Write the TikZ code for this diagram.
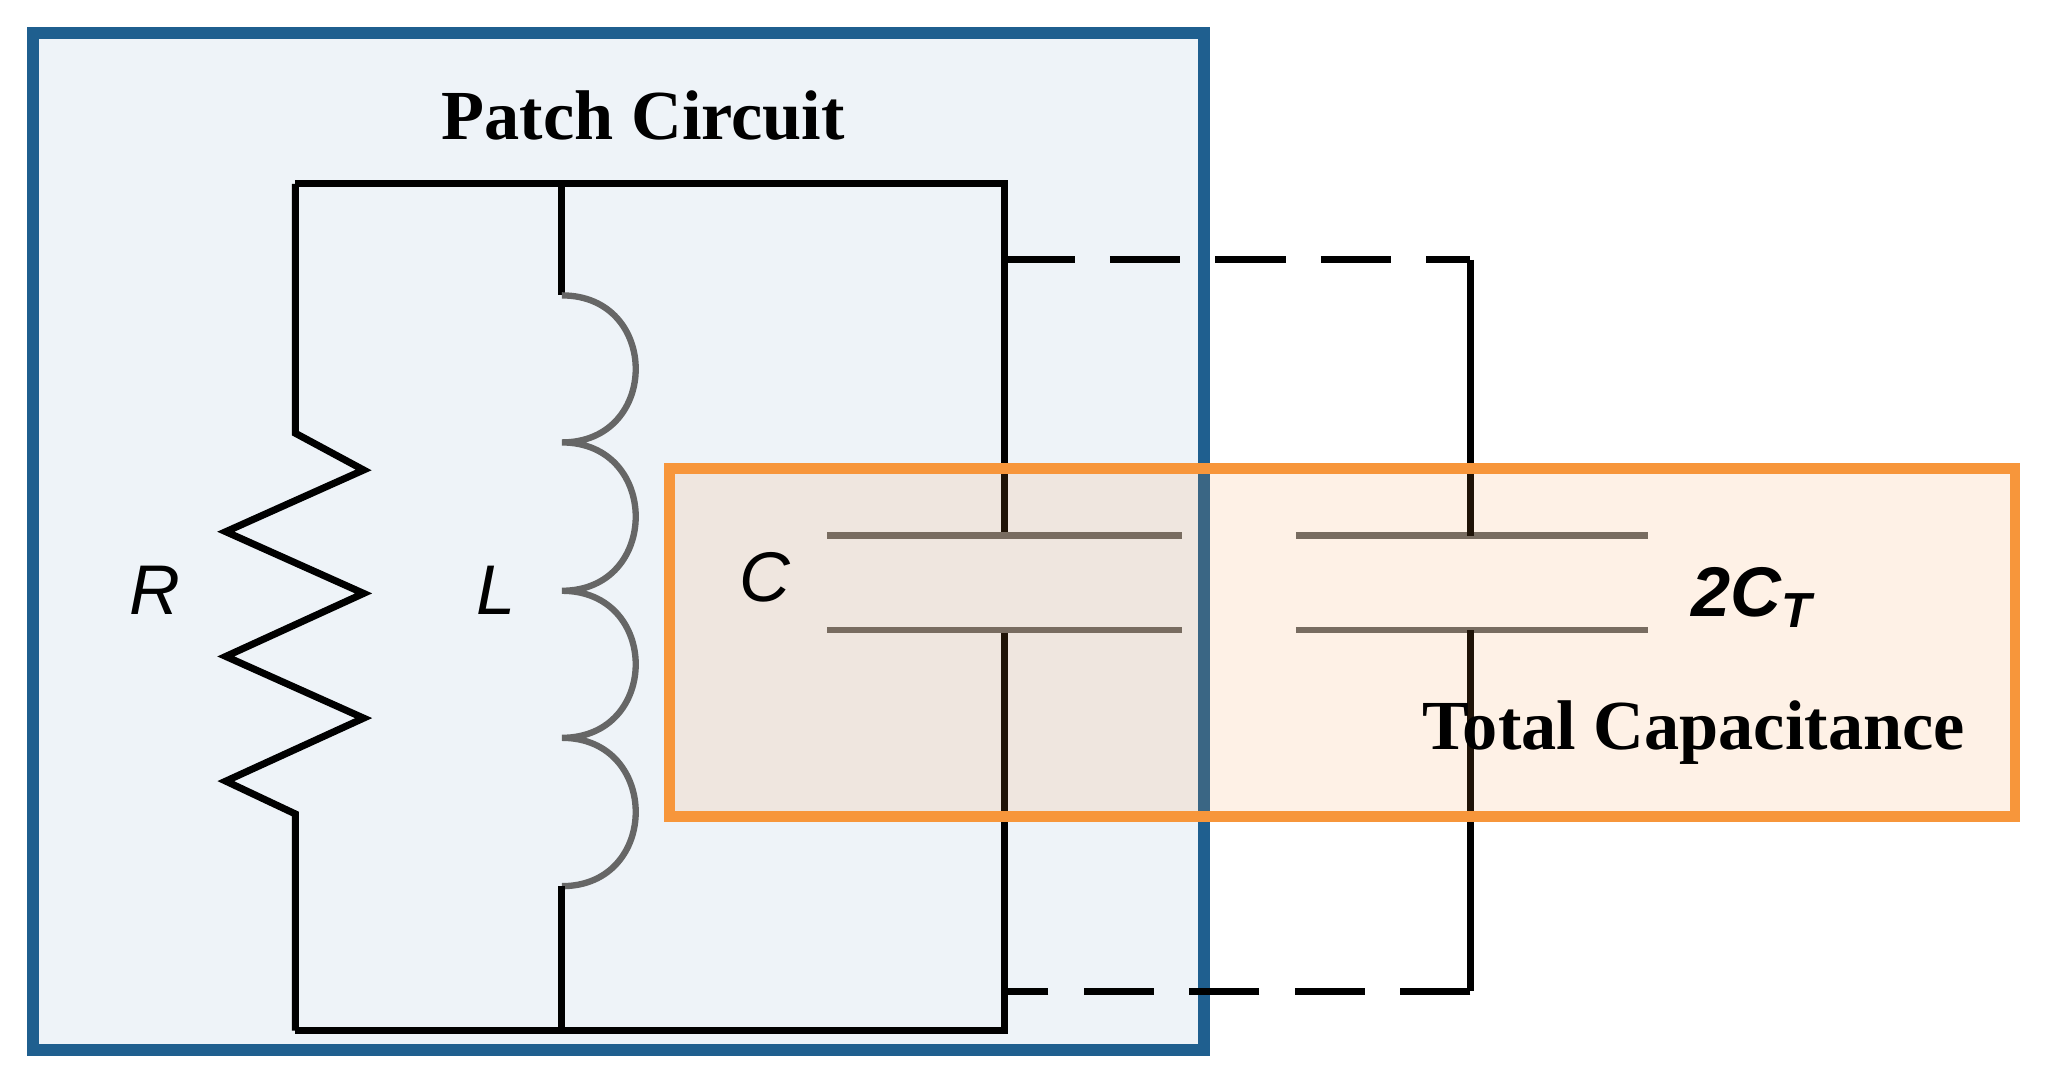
\documentclass[tikz,border=0pt]{standalone}
\usepackage{fontspec}
\setmainfont{Liberation Serif}
\newfontfamily\arialf{Liberation Sans}
\definecolor{patchblue}{HTML}{1F5F8F}
\definecolor{patchfill}{HTML}{EEF3F8}
\definecolor{capor}{HTML}{F7963B}
\begin{document}
\begin{tikzpicture}[x=0.01313cm, y=-0.01313cm,
  wire/.style={line width=2pt, black},
  plate/.style={line width=1.8pt, gray!80!black},
  dashwire/.style={wire, dash pattern=on 20pt off 10pt},
  lbl/.style={font=\arialf\itshape\fontsize{20}{22}\selectfont},
  ttl/.style={font=\bfseries\fontsize{20}{22}\selectfont}]
\useasboundingbox (0,0) rectangle (1560,820);
% boxes
\draw[patchblue, line width=3.5pt, fill=patchfill] (25,25) rectangle (917,800);
% nodes of the circuit
\coordinate (tl) at (225,140); \coordinate (tr) at (765,140);
\coordinate (bl) at (225,785); \coordinate (br) at (765,785);
\coordinate (lt) at (428,140); \coordinate (lb) at (428,785);
\coordinate (ct) at (765,408); \coordinate (cb) at (765,480);
\coordinate (dt) at (765,198); \coordinate (db) at (765,755);
\coordinate (et) at (1120,198); \coordinate (eb) at (1120,755);
\coordinate (ft) at (1120,408); \coordinate (fb) at (1120,480);
\draw[wire] (tl) -- (tr) -- (ct);
\draw[wire] (cb) -- (br) -- (bl);
% resistor
\draw[wire] (tl) -- (225,330) -- (277,358) -- (172,405) -- (277,452) -- (172,500)
  -- (277,547) -- (172,595) -- (225,620) -- (bl);
% inductor
\draw[wire] (lt) -- (428,225);
\draw[plate] (428,225) .. controls (503,225) and (503,337) .. (428,337)
  .. controls (503,337) and (503,450) .. (428,450)
  .. controls (503,450) and (503,562) .. (428,562)
  .. controls (503,562) and (503,675) .. (428,675);
\draw[wire] (428,675) -- (lb);
% capacitor plates
\draw[plate] (630,408) -- (900,408);
\draw[plate] (630,480) -- (900,480);
\draw[plate] (987,408) -- (1255,408);
\draw[plate] (987,480) -- (1255,480);
% total capacitance branch
\draw[dashwire] (dt) -- (et);
\draw[wire] (et) -- (ft);
\draw[wire] (fb) -- (eb);
\draw[dashwire] (eb) -- (db);
\draw[capor, line width=3pt, fill=capor, fill opacity=0.13] (510,357) rectangle (1535,622);
% labels
\node[ttl] (pc) at (490,88) {Patch Circuit};
\node[ttl] (tc) at (1290,558) {Total Capacitance};
\node[lbl] (R) at (118,450) {R};
\node[lbl] (L) at (378,450) {L};
\node[lbl] (C) at (583,440) {C};
\node[lbl, font=\arialf\bfseries\itshape\fontsize{20}{22}\selectfont] (CT) at (1335,455) {2C\textsubscript{T}};
\end{tikzpicture}
\end{document}
